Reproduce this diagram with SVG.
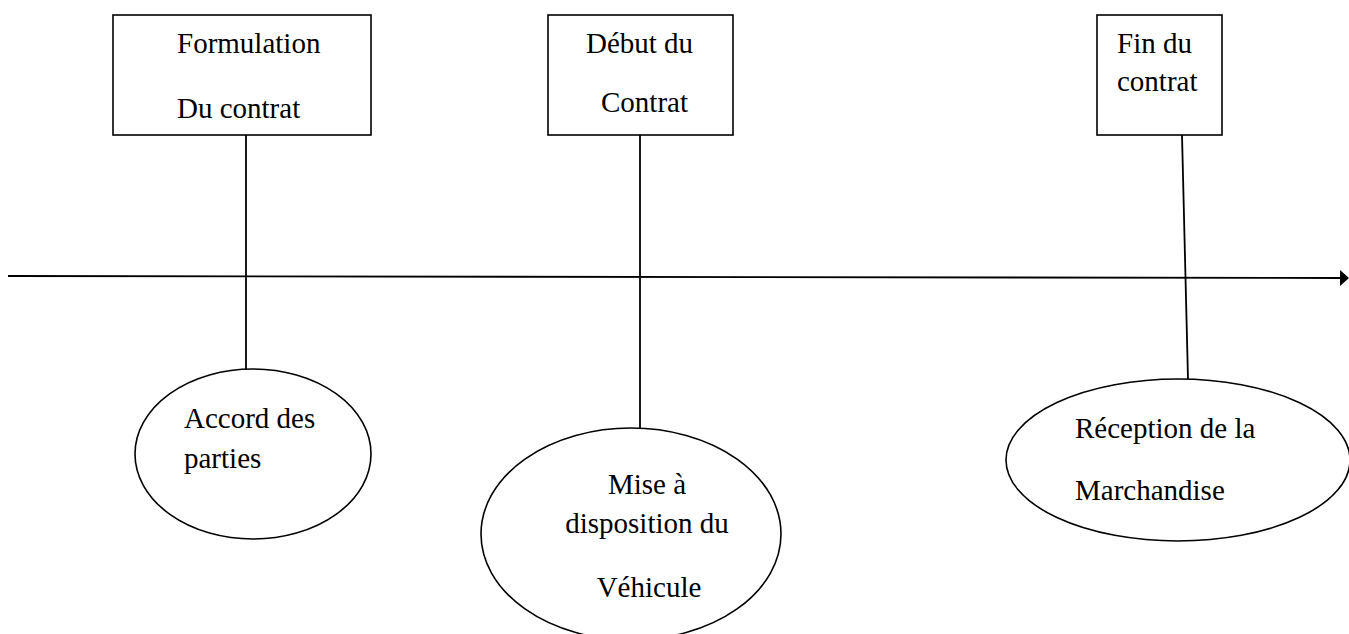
<svg xmlns="http://www.w3.org/2000/svg" width="1349" height="634" viewBox="0 0 1349 634">
  <style>
    .shape { fill: #ffffff; stroke: #000000; stroke-width: 1.6; }
    .link { fill: none; stroke: #000000; stroke-width: 1.8; }
    .label { font-family: "Liberation Serif", "Times New Roman", serif; font-size: 29px; fill: #000000; }
  </style>
  <rect x="0" y="0" width="1349" height="634" fill="#ffffff"/>

  <!-- timeline axis and vertical connectors -->
  <g id="connectors">
    <line class="link" x1="8" y1="276" x2="1341" y2="278"/>
    <polygon points="1340,270 1349,278 1340,286" fill="#000000"/>
    <line class="link" x1="246" y1="135" x2="246" y2="369"/>
    <line class="link" x1="640" y1="135" x2="640" y2="428"/>
    <line class="link" x1="1182" y1="135" x2="1188" y2="379"/>
  </g>

  <!-- stages (rectangles, above the axis) -->
  <g id="formulation">
    <rect class="shape" x="113" y="15" width="258" height="120"/>
    <text class="label" x="177" y="53">Formulation</text>
    <text class="label" x="177" y="118">Du contrat</text>
  </g>
  <g id="debut">
    <rect class="shape" x="548" y="15" width="185" height="120"/>
    <text class="label" x="586" y="53">Début du</text>
    <text class="label" x="601" y="112">Contrat</text>
  </g>
  <g id="fin">
    <rect class="shape" x="1097" y="15" width="125" height="120"/>
    <text class="label" x="1117" y="53">Fin du</text>
    <text class="label" x="1117" y="91">contrat</text>
  </g>

  <!-- events (ellipses, below the axis) -->
  <g id="accord">
    <ellipse class="shape" cx="253" cy="454" rx="118" ry="85"/>
    <text class="label" x="184" y="428">Accord des</text>
    <text class="label" x="184" y="468">parties</text>
  </g>
  <g id="mise-a-disposition">
    <ellipse class="shape" cx="631" cy="534" rx="150" ry="106"/>
    <text class="label" x="647" y="494" text-anchor="middle">Mise à</text>
    <text class="label" x="647" y="533" text-anchor="middle">disposition du</text>
    <text class="label" x="649" y="597" text-anchor="middle">Véhicule</text>
  </g>
  <g id="reception">
    <ellipse class="shape" cx="1178" cy="460" rx="172" ry="81"/>
    <text class="label" x="1075" y="438">Réception de la</text>
    <text class="label" x="1075" y="500">Marchandise</text>
  </g>
</svg>
